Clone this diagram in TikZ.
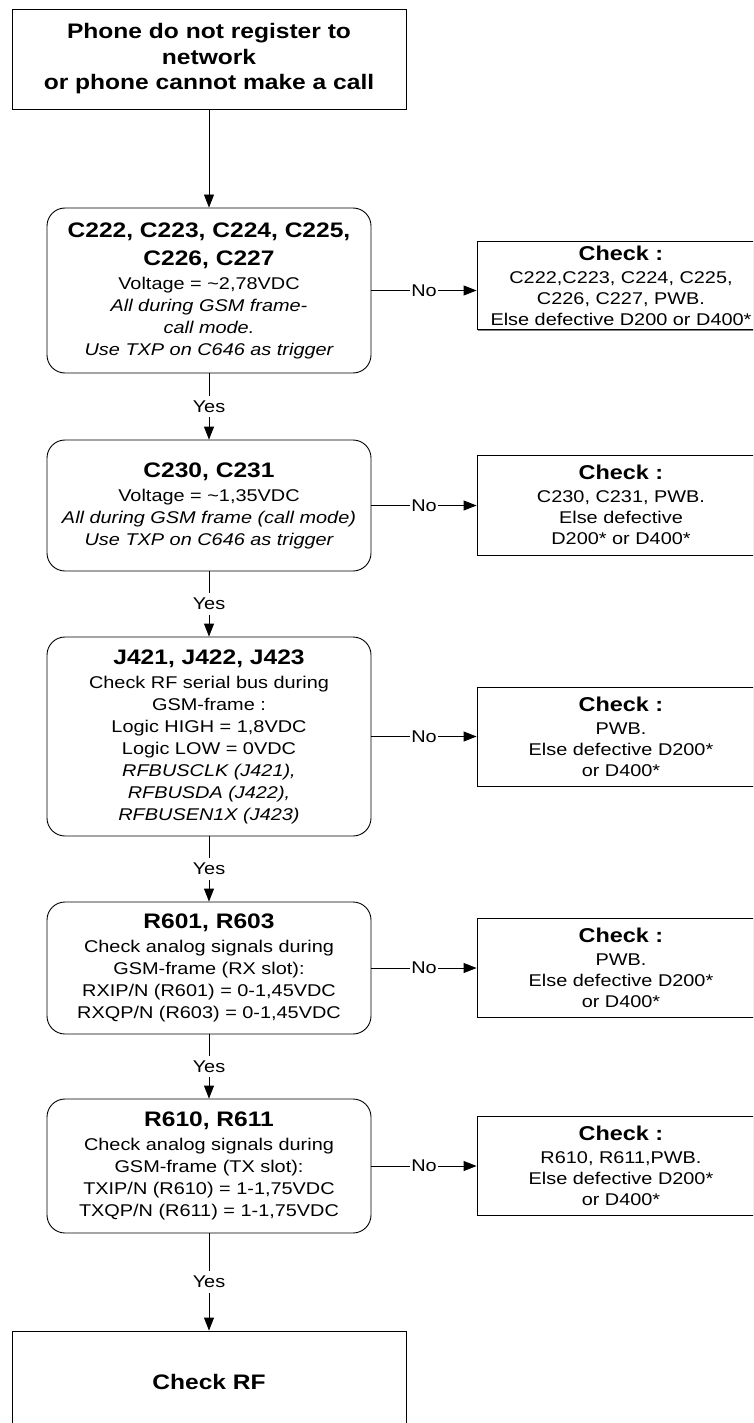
\documentclass[tikz,border=0pt]{standalone}
\usepackage{fontspec}
\setmainfont{Liberation Sans}[FakeStretch=1.17]
\usetikzlibrary{arrows.meta,shadows}
\newcommand\tfont{\fontsize{21}{27}\selectfont\bfseries}
\newcommand\cfont{\fontsize{20}{26}\selectfont\bfseries}
\tikzset{
  boxline/.style={draw, line width=0.9pt, align=center, inner sep=0pt},
  boxshadow/.style={drop shadow={shadow xshift=1.2pt, shadow yshift=-1.2pt, fill=black!50, opacity=1}},
  testbox/.style={boxline, rounded corners=18pt, minimum width=324pt, font=\fontsize{17}{22}\selectfont},
  checkbox/.style={boxline, boxshadow, fill=white, minimum width=288pt, minimum height=99pt, font=\fontsize{17}{21}\selectfont},
  endbox/.style={boxline, boxshadow, fill=white, minimum width=394pt, font=\fontsize{21}{25.5}\selectfont\bfseries},
  flow/.style={line width=0.9pt, -{Triangle[length=13pt,width=10pt]}},
  yeslbl/.style={fill=white, inner xsep=2pt, inner ysep=5pt, font=\fontsize{17}{20}\selectfont},
  nolbl/.style={fill=white, inner xsep=1.5pt, inner ysep=2pt, font=\fontsize{17}{20}\selectfont},
}
\begin{document}
\begin{tikzpicture}[x=1pt,y=-1pt]
\useasboundingbox (0,0) rectangle (753,1423);
\clip (0,0) rectangle (753,1423);
% main column
\node[endbox, minimum height=100pt] (start) at (209,59)
  {Phone do not register to\\network\\or phone cannot make a call};
\node[testbox, minimum height=165pt] (t1) at (209,290.5)
  {\tfont C222, C223, C224, C225,\\[6pt]\tfont C226, C227\\[2pt]
   Voltage = \textasciitilde2,78VDC\\\itshape All during GSM frame-\\
   \itshape call mode.\\\itshape Use TXP on C646 as trigger};
\node[testbox, minimum height=131pt] (t2) at (209,505.5)
  {\tfont C230, C231\\[2pt]Voltage = \textasciitilde1,35VDC\\
   \itshape All during GSM frame (call mode)\\\itshape Use TXP on C646 as trigger};
\node[testbox, minimum height=199pt] (t3) at (209,736.5)
  {\tfont J421, J422, J423\\[2pt]Check RF serial bus during\\GSM-frame :\\
   Logic HIGH = 1,8VDC\\Logic LOW = 0VDC\\\itshape RFBUSCLK (J421),\\
   \itshape RFBUSDA (J422),\\\itshape RFBUSEN1X (J423)};
\node[testbox, minimum height=132pt] (t4) at (209,968)
  {\tfont R601, R603\\[2pt]Check analog signals during\\GSM-frame (RX slot):\\
   RXIP/N (R601) = 0-1,45VDC\\RXQP/N (R603) = 0-1,45VDC};
\node[testbox, minimum height=134pt] (t5) at (209,1166)
  {\tfont R610, R611\\[2pt]Check analog signals during\\GSM-frame (TX slot):\\
   TXIP/N (R610) = 1-1,75VDC\\TXQP/N (R611) = 1-1,75VDC};
\node[endbox, minimum height=102pt] (finish) at (209,1382) {Check RF};
% check boxes
\node[checkbox, minimum height=88pt] (c1) at (621,285.5)
  {\cfont Check :\\[2pt]C222,C223, C224, C225,\\C226, C227, PWB.\\Else defective D200 or D400*};
\node[checkbox, minimum height=100pt] (c2) at (621,505)
  {\cfont Check :\\[2pt]C230, C231, PWB.\\Else defective\\D200* or D400*};
\node[checkbox] (c3) at (621,736.5)
  {\cfont Check :\\[2pt]PWB.\\Else defective D200*\\or D400*};
\node[checkbox] (c4) at (621,967.5)
  {\cfont Check :\\[2pt]PWB.\\Else defective D200*\\or D400*};
\node[checkbox] (c5) at (621,1165.5)
  {\cfont Check :\\[2pt]R610, R611,PWB.\\Else defective D200*\\or D400*};
% connectors
\draw[flow] (start) -- (t1);
\draw[flow] (t1) -- node[yeslbl] {Yes} (t2);
\draw[flow] (t2) -- node[yeslbl] {Yes} (t3);
\draw[flow] (t3) -- node[yeslbl] {Yes} (t4);
\draw[flow] (t4) -- node[yeslbl] {Yes} (t5);
\draw[flow] (t5) -- node[yeslbl] {Yes} (finish);
\foreach \i in {1,...,5}
  \draw[flow] (t\i.east) -- node[nolbl] {No} (t\i.east -| c\i.west);
\end{tikzpicture}
\end{document}
